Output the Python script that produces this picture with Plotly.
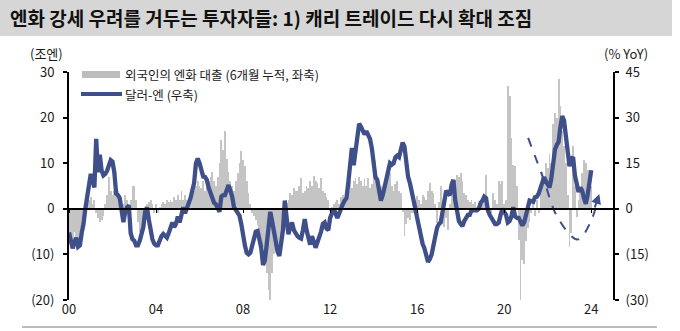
import numpy as np
import plotly.graph_objects as go

# 외국인의 엔화 대출, 6개월 누적 (조엔), 월별 2000-01 ~ 2024-01
loans = [
    -6, -7, -8, -5, -7, -8, -7, -6, -3, 1, 1.5, 2,            # 2000
    2.5, 1, 2, -1, -2, -3, -2.5, -1.5, 1, 3, 7, 4,             # 2001
    3, 4, 5.9, 4, 3, 2, 1, 3, 2, 1, 2, 5,                      # 2002
    5, 2, -3, -5, -7, -4, -2, 1, 1.5, 2, 1, -1,                # 2003
    1, -1, 0.5, 1, 1.5, 1, 2, 1.5, 2, 1.5, 2.5, 2,             # 2004
    3, 2, 3.8, 2, 3, 2, 1.5, 2.5, 3, 4, 5, 6,                  # 2005
    5, 4.5, 6, 4, 5, 6, 7, 8, 6, 5, 7, 10,                     # 2006
    15, 13, 17, 11, 8, 6, 5, 4, 6, 7.8, 10, 12.6,              # 2007
    10.8, 9.3, 6, 3.4, 1, -1, -1.5, -2.4, -3.5, -5.3, -7, -8.3,  # 2008
    -11, -14, -17.8, -20, -14, -10, -8, -9, -9.7, -7, -5.3, -2.4,  # 2009
    1.2, 2, 3.4, 3, 4.5, 4, 3.8, 5, 6.7, 3.4, 4, 4.9,          # 2010
    4.5, 6, 5, 7.1, 6, 5.6, 4.5, 6.7, 4, 3.4, 2.5, 2,          # 2011
    -0.5, 0.5, 1, 1.5, 2, 1, 2.5, 3, 2, 3.5, 5, 6,             # 2012
    4.5, 6, 6.7, 5.5, 7, 6, 5, 6.5, 5, 6.7, 4.5, 5.5,          # 2013
    8, 10.4, 7, 5.5, 5, 4.5, 5, 6, 7, 7.8, 5, 4,               # 2014
    5.5, 6, 4, 3.5, -0.6, -6, -3.4, -2, -2.4, -1, -1, 1,       # 2015
    2.7, 2, 1, 3, 2.5, 2, 4, 5.6, 4, 3.4, 1, -3.2,             # 2016
    1.5, 4.9, -1, -3.9, -2, -4.6, 1, 3.4, 5, 6.4, 7.5, 7,      # 2017
    7.8, 6, 3.4, 3, 2, 1.5, 2, 1, 1.5, 0.5, 1, 2,              # 2018
    2, 3, 7.5, 1, -1.5, -1, 3.4, 2, 1, 6, 5.5, 6,              # 2019
    1, 2, 27, 24.7, 15.5, 9.7, 9.3, 5, -6.8, -20, -11.2, -12,  # 2020
    -7, -4.2, -3, -1, 1.5, -1.5, 2, -1, 5, 8, 6, 10,           # 2021
    9, 12, 10, 18.5, 21, 20, 28.4, 22.5, 17, 13.7, 10, 3,      # 2022
    -8.3, -5.3, 13.7, 4.9, -1.7, 2, 3.4, 7.8, 10.8, 10, 8.6, 7,  # 2023
    4.9,                                                       # 2024
]

# 달러-엔 환율 전년동월비 (%), 월별 2000-01 ~ 2024-01
usdjpy_yoy = [
    -7.8, -10.5, -13, -11, -9.5, -12.5, -12, -8, -5, 0, 4, 9,          # 2000
    11.5, 9.5, 7, 23, 12, 17.8, 12.5, 11, 11.5, 12.5, 14, 16,          # 2001
    15.5, 12, 5, 4.5, 3.5, -2, -4.4, -1, 0.5, 1, -8, -10,              # 2002
    -10.5, -12, -12, -10.5, -8, -6, -1, 0.5, -3.5, -7, -10, -11.5,     # 2003
    -12, -12, -10, -9, -8.3, -9, -9.5, -8, -6, -4.5, -6, -5,           # 2004
    -2.5, -4.5, -2, 0.5, -1.5, 0, 1.5, 3.5, 6, 8.5, 15, 16.5,          # 2005
    15, 12.5, 10.6, 10.5, 9.5, 7, 5.5, 3.5, 2, 1.5, 0, -1,             # 2006
    4, 4.5, 4.5, 6.5, 7.8, 6, 4, 0.5, -0.5, -1.5, -2.2, -5,            # 2007
    -9.5, -12, -14.5, -15, -14.5, -12, -8.5, -7.5, -7.3, -10, -12.8, -18.5,  # 2008
    -17, -12, -5, -1, -4, -8, -12, -14, -15.5, -12, -7, 2.7,           # 2009
    -5, -8.4, -6, -4.5, -7, -8.4, -9, -9.5, -9.8, -7, -3.4, -7,        # 2010
    -10, -11.8, -9, -11, -12.8, -11, -9.5, -7.5, -5, -4.5, -6.5, -7,   # 2011
    -3, -1.5, 0, -1.5, -3, -1.5, 0.5, 1.5, 2.7, 3.5, 8.5, 16,          # 2012
    20, 14.3, 19, 25, 28, 27, 25.5, 24.5, 25.5, 24.5, 23, 20,          # 2013
    14, 10.4, 9.5, 5, 2.7, 4.5, 7, 10.5, 13, 15, 14.5, 15,             # 2014
    17, 17.5, 17, 20, 21.8, 20.5, 15, 10.5, 8.5, 5, 3, 0,              # 2015
    -3, -6.5, -9.5, -11.5, -13, -16, -17.5, -16.5, -15, -12, -8.5, -6.2,  # 2016
    -5, -4.5, -1, 3.5, 6, 5, 4.5, 8, 9.5, 2.7, -1, -4,                 # 2017
    -5, -5.7, -4, -3, -2, -2, -0.5, -0.5, -0.5, -0.5, 0, 2,            # 2018
    2.7, 4, 3.5, -0.5, -2, -3, -4.5, -5, -5, -4.5, -2, 0,              # 2019
    -1, -2, -4.5, -4, -2.5, 0.5, -2.5, -3, -3, -4, -5.5, -4.5,         # 2020
    -2, 1.5, 2.7, 2.5, 2.3, 3.8, 4, 5, 6.5, 8.5, 10.4, 9,              # 2021
    8, 7, 10, 15, 19.5, 21, 22, 27, 30.5, 29, 24, 18.5,                # 2022
    14, 16.5, 17, 11, 7.5, 5.5, 7, 6, 3.5, 1.6, 4.5, 9.5,              # 2023
    12.7,                                                              # 2024
]

# 재확대 흐름을 가리키는 점선 화살표 (연도, 우축 %)
guide_x = [2021.1, 2021.78, 2022.46, 2023.38, 2023.99, 2024.28]
guide_y = [23.3, 10.4, -2.9, -10.1, -4.0, 2.5]
guide_tip = (2024.37, 4.9)

tick_years = [2000, 2004, 2008, 2012, 2016, 2020, 2024]
tick_text = ["00", "04", "08", "12", "16", "20", "24"]
left_vals = [-20, -10, 0, 10, 20, 30]
left_text = ["(20)", "(10)", "0", "10", "20", "30"]
right_vals = [-30, -15, 0, 15, 30, 45]
right_text = ["(30)", "(15)", "0", "15", "30", "45"]

x_years = 2000 + np.arange(len(loans)) / 12.0

W, H = 680, 331
L, R, T, B = 69, 67, 72, 31
PW, PH = W - L - R, H - T - B
FONT = "Noto Sans CJK KR"
NAVY = "#3e4f8a"
BAR_GRAY = "#c4c4c4"


def fx(p):
    return (p - L) / PW


def fy(p):
    return (H - B - p) / PH


fig = go.Figure()
fig.add_trace(go.Bar(
    x=x_years, y=loans, width=0.038, marker=dict(color=BAR_GRAY, line=dict(width=0)),
    xaxis="x", yaxis="y", showlegend=False,
))
fig.add_trace(go.Scatter(
    x=x_years, y=usdjpy_yoy, mode="lines", line=dict(color=NAVY, width=4.3),
    xaxis="x2", yaxis="y2", showlegend=False,
))
fig.add_trace(go.Scatter(
    x=guide_x, y=guide_y, mode="lines",
    line=dict(color=NAVY, width=2, dash="dash", shape="spline"),
    xaxis="x2", yaxis="y2", showlegend=False,
))

axis_font = dict(family=FONT, size=13, color="#1a1a1a")
legend_font = dict(family=FONT, size=12.5, color="#1a1a1a")

shapes = [
    # 제목 띠
    dict(type="rect", xref="paper", yref="paper", x0=fx(0), x1=fx(672), y0=fy(0), y1=fy(36),
         fillcolor="#d6d6d6", line=dict(width=0), layer="below"),
    # 하단 구분선
    dict(type="line", xref="paper", yref="paper", x0=fx(22), x1=fx(657), y0=fy(327), y1=fy(327),
         line=dict(color="#a6a6a6", width=1.5)),
    # 범례 기호
    dict(type="rect", xref="paper", yref="paper", x0=fx(82), x1=fx(120), y0=fy(71), y1=fy(78),
         fillcolor="#bdbdbd", line=dict(width=0)),
    dict(type="line", xref="paper", yref="paper", x0=fx(81), x1=fx(122), y0=fy(94), y1=fy(94),
         line=dict(color=NAVY, width=4)),
]

annotations = [
    dict(text="<b>엔화 강세 우려를 거두는 투자자들: 1) 캐리 트레이드 다시 확대 조짐</b>",
         xref="paper", yref="paper", x=fx(8), y=fy(18), xanchor="left", yanchor="middle",
         showarrow=False, font=dict(family=FONT, size=19, color="#111111")),
    dict(text="(조엔)", xref="paper", yref="paper", x=fx(46), y=fy(54), xanchor="center",
         yanchor="middle", showarrow=False, font=axis_font),
    dict(text="(% YoY)", xref="paper", yref="paper", x=fx(626), y=fy(54), xanchor="center",
         yanchor="middle", showarrow=False, font=axis_font),
    dict(text="외국인의 엔화 대출 (6개월 누적, 좌축)", xref="paper", yref="paper", x=fx(123),
         y=fy(74.5), xanchor="left", yanchor="middle", showarrow=False, font=legend_font),
    dict(text="달러-엔 (우축)", xref="paper", yref="paper", x=fx(123), y=fy(94),
         xanchor="left", yanchor="middle", showarrow=False, font=legend_font),
    dict(text="", x=guide_tip[0], y=guide_tip[1], xref="x2", yref="y2", showarrow=True,
         ax=-5, ay=15, arrowhead=2, arrowsize=1, arrowwidth=2, arrowcolor=NAVY),
]

fig.update_layout(
    width=W, height=H,
    margin=dict(l=L, r=R, t=T, b=B, pad=0),
    paper_bgcolor="white", plot_bgcolor="white",
    bargap=0,
    font=dict(family=FONT, color="#1a1a1a"),
    showlegend=False,
    xaxis=dict(range=[2000, 2025], tickmode="array", tickvals=tick_years, ticktext=tick_text,
               showline=False, ticks="", showgrid=False, zeroline=False, tickfont=axis_font,
               anchor="y", fixedrange=True),
    xaxis2=dict(range=[2000, 2025], overlaying="x", anchor="free", position=0.4,
                tickmode="array", tickvals=tick_years, showticklabels=False,
                ticks="outside", ticklen=3, tickcolor="black", tickwidth=1.2,
                showline=True, linecolor="black", linewidth=1.5,
                showgrid=False, zeroline=False),
    yaxis=dict(range=[-20, 30], tickmode="array", tickvals=left_vals, ticktext=left_text,
               showline=True, linecolor="black", linewidth=2, ticks="outside", ticklen=4,
               tickcolor="black", tickwidth=1.5, showgrid=False, zeroline=False,
               tickfont=axis_font, ticklabelstandoff=6),
    yaxis2=dict(range=[-30, 45], tickmode="array", tickvals=right_vals, ticktext=right_text,
                overlaying="y", side="right", anchor="x",
                showline=True, linecolor="black", linewidth=2, ticks="outside", ticklen=4,
                tickcolor="black", tickwidth=1.5, showgrid=False, zeroline=False,
                tickfont=axis_font, ticklabelstandoff=4),
    shapes=shapes,
    annotations=annotations,
)

fig.write_html("out.html")
